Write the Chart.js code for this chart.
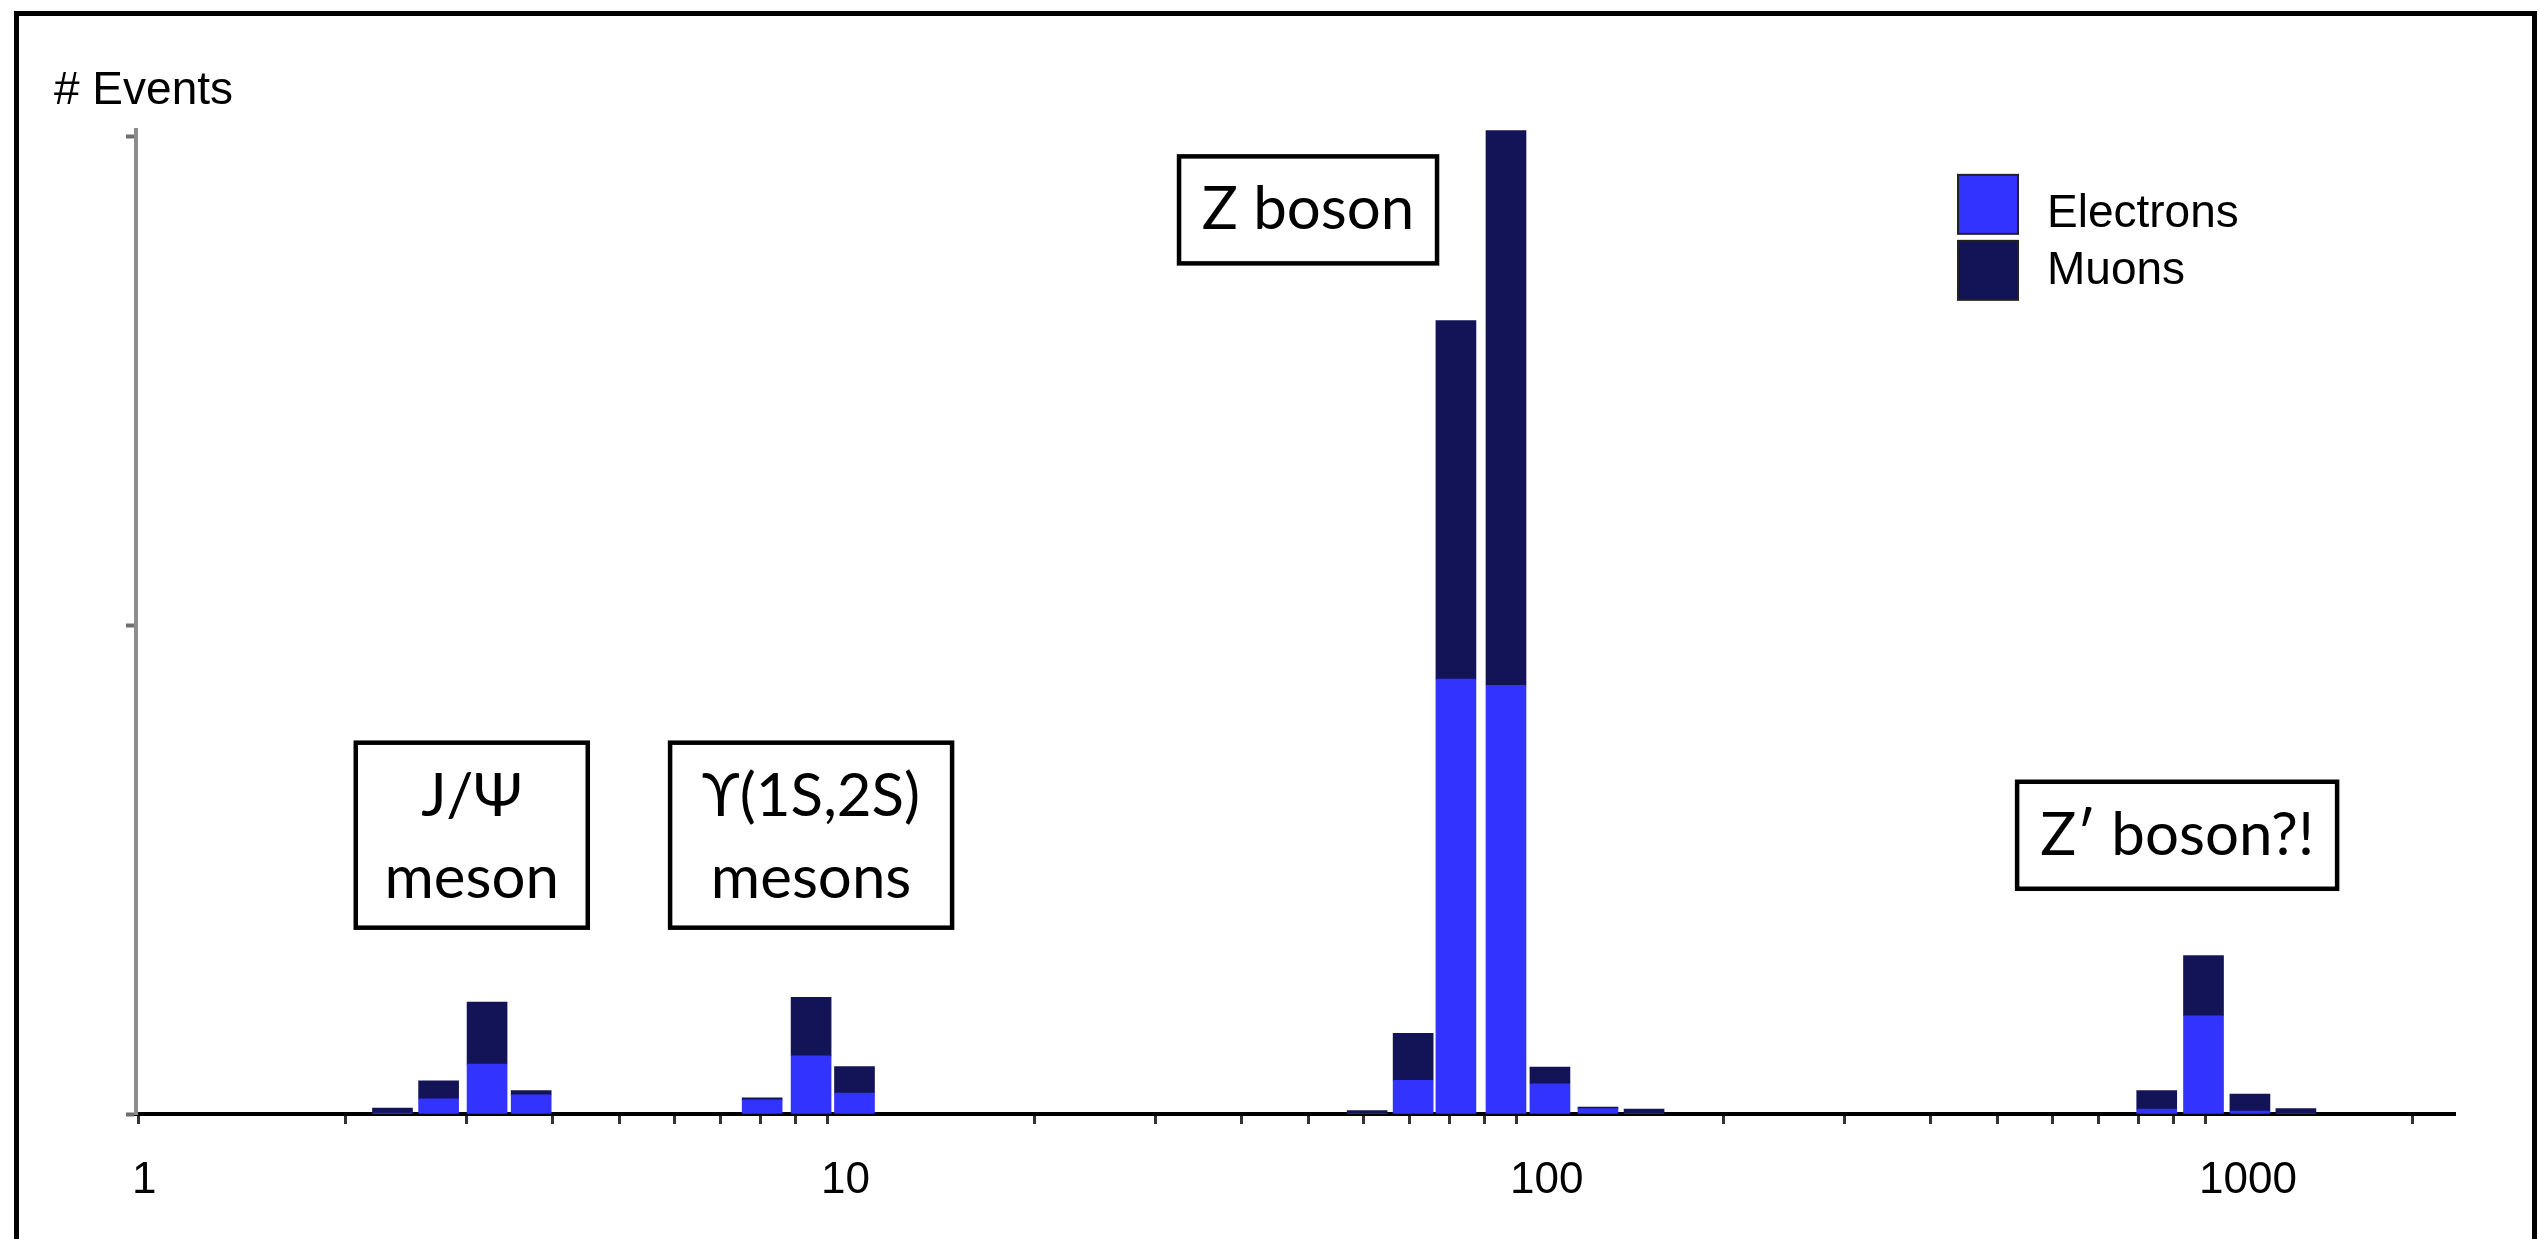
<!DOCTYPE html>
<html>
<head>
<meta charset="utf-8">
<title># Events</title>
<script src="https://cdn.jsdelivr.net/npm/chart.js@4.4.1/dist/chart.umd.min.js"></script>
<style>
  html, body { margin: 0; padding: 0; background: #fff; }
  canvas { display: block; }
</style>
</head>
<body>
<canvas id="massChart" width="2539" height="1239"></canvas>
<script>
// Dilepton invariant-mass histogram, bin centres in GeV (logarithmic binning)
const massBins  = [2.34, 2.73, 3.21, 3.72, 8.05, 9.48, 10.96, 60.8, 70.9, 81.8, 96.7, 112, 131.5, 153.4, 851, 995, 1162, 1355];
// Event counts per bin for each lepton flavour
const electrons = [0.2, 3.1, 10.2, 3.9, 2.9, 11.9, 4.3, 0.1, 6.9, 89.0, 87.7, 6.2, 1.1, 0.1, 1.0, 20.1, 0.6, 0.1];
const muons     = [1.0, 3.7, 12.7, 0.9, 0.4, 12.0, 5.4, 0.6, 9.6, 73.4, 113.6, 3.4, 0.3, 0.9, 3.8, 12.3, 3.5, 1.0];
// Axis ticks
const xTickLabels = [1, 10, 100, 1000];
const yTickValues = [0, 100, 200];
// Resonance labels: centre mass, top edge in events
const resonanceLabels = [
  { lines: ['J/Ψ', 'meson'],       mass: 3.05, top: 76 },
  { lines: ['ϒ(1S,2S)', 'mesons'], mass: 9.48, top: 76 },
  { lines: ['Z boson'],            mass: 49.9, top: 196 },
  { lines: ['Z′ boson?!'],         mass: 911,  top: 68 }
];
const labelBoxWidths = [232, 282, 258, 320];

const SANS = '"Liberation Sans", Arial, Helvetica, sans-serif';
const LABEL_FONT = '60px Lato, "Noto Sans", "DejaVu Sans", sans-serif';

// 1-9 steps of every decade that falls inside the axis range
function logStepTicks(min, max) {
  const out = [];
  for (const decade of xTickLabels) {
    for (let k = 1; k <= 9; k++) {
      const v = k * decade;
      if (v >= min && v <= max) out.push({ value: v });
    }
  }
  return out;
}

const decorations = {
  id: 'decorations',
  beforeDraw(chart) {
    const { ctx, width, height } = chart;
    ctx.save();
    ctx.fillStyle = '#ffffff';
    ctx.fillRect(0, 0, width, height);
    ctx.restore();
  },
  afterDraw(chart) {
    const { ctx, chartArea, scales } = chart;
    ctx.save();

    // boxed resonance names
    ctx.font = LABEL_FONT;
    ctx.textAlign = 'center';
    ctx.textBaseline = 'alphabetic';
    ctx.fillStyle = '#000';
    ctx.strokeStyle = '#000';
    ctx.lineWidth = 4.5;
    resonanceLabels.forEach((a, i) => {
      const cx = scales.x.getPixelForValue(a.mass);
      const top = scales.y.getPixelForValue(a.top);
      const w = labelBoxWidths[i];
      const h = a.lines.length > 1 ? 185 : 107;
      ctx.strokeRect(cx - w / 2, top, w, h);
      a.lines.forEach((t, j) => ctx.fillText(t, cx, top + 73 + j * 82));
    });

    // legend
    const lx = chartArea.right - 497;
    const ly = scales.y.getPixelForValue(200) + 38;
    ctx.textAlign = 'left';
    ctx.font = '46px ' + SANS;
    chart.data.datasets.forEach((ds, i) => {
      const by = ly + i * 66;
      ctx.fillStyle = ds.backgroundColor;
      ctx.fillRect(lx, by, 60, 59);
      ctx.lineWidth = 2;
      ctx.strokeStyle = '#222';
      ctx.strokeRect(lx, by, 60, 59);
      ctx.fillStyle = '#000';
      ctx.fillText(ds.label, lx + 89, ly + 52 + i * 57);
    });

    // axis caption
    ctx.font = '46px ' + SANS;
    ctx.fillText('# Events', 54, 104);

    // outer frame
    ctx.strokeStyle = '#000';
    ctx.lineWidth = 5;
    ctx.beginPath();
    ctx.moveTo(16.5, chart.height);
    ctx.lineTo(16.5, 13.5);
    ctx.lineTo(2534.5, 13.5);
    ctx.lineTo(2534.5, chart.height);
    ctx.stroke();
    ctx.restore();
  }
};

new Chart(document.getElementById('massChart'), {
  type: 'bar',
  data: {
    datasets: [
      {
        label: 'Electrons',
        data: massBins.map((m, i) => ({ x: m, y: electrons[i] })),
        backgroundColor: '#3333ff',
        clip: false
      },
      {
        label: 'Muons',
        data: massBins.map((m, i) => ({ x: m, y: muons[i] })),
        backgroundColor: '#131357',
        clip: false
      }
    ]
  },
  options: {
    responsive: false,
    animation: false,
    events: [],
    devicePixelRatio: 1,
    barThickness: 40,
    borderWidth: 0,
    layout: { padding: { left: 0, top: 130, right: 84, bottom: 0 } },
    plugins: {
      legend: { display: false },
      tooltip: { enabled: false },
      title: { display: false }
    },
    scales: {
      x: {
        type: 'logarithmic',
        min: 0.993,
        max: 2306,
        stacked: true,
        offset: false,
        afterFit(s) { s.height = 125; },
        afterBuildTicks(s) { s.ticks = logStepTicks(s.min, s.max); },
        ticks: {
          autoSkip: false,
          maxRotation: 0,
          minRotation: 0,
          align: 'start',
          labelOffset: -6,
          padding: 30,
          color: '#000',
          font: { family: SANS, size: 44 },
          callback(v) { return xTickLabels.includes(v) ? String(v) : ''; }
        },
        grid: {
          offset: false,
          drawOnChartArea: false,
          drawTicks: true,
          tickLength: 10,
          tickWidth: 3,
          tickColor: '#333'
        },
        border: { color: '#000', width: 4 }
      },
      y: {
        type: 'linear',
        min: 0,
        max: 201.4,
        stacked: true,
        afterFit(s) { s.width = 136; },
        afterBuildTicks(s) { s.ticks = yTickValues.map(v => ({ value: v })); },
        ticks: { display: false },
        grid: {
          drawOnChartArea: false,
          drawTicks: true,
          tickLength: 10,
          tickWidth: 4,
          tickColor: '#6e6e6e'
        },
        border: { color: '#8c8c8c', width: 4 }
      }
    }
  },
  plugins: [decorations]
});
</script>
</body>
</html>
